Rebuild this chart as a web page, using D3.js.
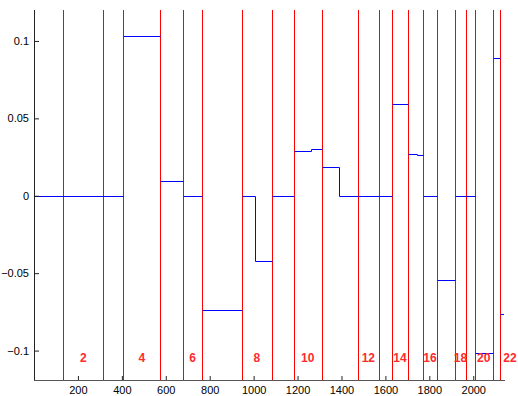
<!DOCTYPE html>
<html>
<head>
<meta charset="utf-8">
<script src="https://cdn.jsdelivr.net/npm/d3@7"></script>
<style>
  body { margin: 0; background: #fff; }
  text { font-family: "Liberation Sans", Arial, sans-serif; }
</style>
</head>
<body>
<script>
// segment borders (red lines), first and last are the outer ends
var borders = [0, 133, 316, 407, 575, 680, 765, 947, 1082, 1182, 1311, 1474, 1571, 1628, 1704, 1771, 1835, 1915, 1969, 2007, 2088, 2122, 2213]
// step line: where each level starts and its value
var stepX = [0, 133, 316, 407, 575, 680, 765, 947, 1006, 1082, 1182, 1261, 1311, 1389, 1474, 1571, 1628, 1704, 1742, 1771, 1835, 1915, 1969, 2007, 2088, 2122]
var stepY = [0, 0, 0, 0.1032, 0.0097, 0, -0.0738, 0, -0.0424, 0, 0.029, 0.0303, 0.0189, 0, 0, 0, 0.0594, 0.0269, 0.0262, 0, -0.0546, 0, 0, -0.1013, 0.0888, -0.0763]
var segLabels = [2, 4, 6, 8, 10, 12, 14, 16, 18, 20, 22]
var xTicks = [200, 400, 600, 800, 1000, 1200, 1400, 1600, 1800, 2000]
var yTicks = [-0.1, -0.05, 0, 0.05, 0.1]

var width = 518, height = 396

var svg = d3.select("body").append("svg")
  .attr('width', width)
  .attr('height', height)

var x = d3.scaleLinear().domain([0, 2140]).range([34, 504])
var y = d3.scaleLinear().domain([-0.119, 0.12]).range([380, 10])

function px(v) { return Math.round(x(v)) + 0.5 }
function py(v) { return Math.round(y(v)) + 0.5 }

svg.append("clipPath").attr('id', 'plot')
  .append("rect")
  .attr('x', 34).attr('y', 10)
  .attr('width', 470).attr('height', 370)

var plot = svg.append("g").attr('clip-path', 'url(#plot)')

// red borders
plot.selectAll("line.border")
  .data(borders.slice(1, -1))
  .enter().append("line")
  .attr('class', 'border')
  .attr('x1', function(d) { return px(d) })
  .attr('x2', function(d) { return px(d) })
  .attr('y1', 10)
  .attr('y2', 380)
  .style('stroke', 'rgb(255,0,0)')
  .style('stroke-width', 1)

// blue steps, one path per segment
var segments = []
for (var s = 0; s < borders.length - 1; s++) {
  var a = borders[s], b = borders[s + 1]
  var pts = []
  for (var i = 0; i < stepX.length; i++) {
    if (stepX[i] >= a && stepX[i] < b) pts.push([stepX[i], stepY[i]])
  }
  pts.push([b, pts[pts.length - 1][1]])
  segments.push(pts)
}

var line = d3.line()
  .x(function(d) { return px(d[0]) })
  .y(function(d) { return py(d[1]) })
  .curve(d3.curveStepAfter)

plot.selectAll("path.step")
  .data(segments)
  .enter().append("path")
  .attr('class', 'step')
  .attr('d', line)
  .style('fill', 'none')
  .style('stroke', 'rgb(0,0,255)')
  .style('stroke-width', 1)

// segment numbers
svg.selectAll("text.seg")
  .data(segLabels)
  .enter().append("text")
  .attr('class', 'seg')
  .attr('x', function(d) { return x((borders[d - 1] + borders[d]) / 2) })
  .attr('y', 362)
  .attr('text-anchor', 'middle')
  .attr('fill', '#ff2a2a')
  .attr('font-size', 12)
  .attr('font-weight', 'bold')
  .text(function(d) { return d })

// axes, ticks pointing inward
var xAxis = d3.axisBottom(x).tickValues(xTicks).tickSize(-4).tickPadding(6)
  .tickFormat(d3.format("d"))
var yAxis = d3.axisLeft(y).tickValues(yTicks).tickSize(-5).tickPadding(5)
  .tickFormat(function(d) { return d === 0 ? "0" : String(d).replace("-", "\u2212") })

var gx = svg.append("g").attr('transform', 'translate(0,380)').call(xAxis)
var gy = svg.append("g").attr('transform', 'translate(34,0)').call(yAxis)

gx.select(".domain").attr('d', 'M34,0.5H505').attr('stroke', '#555')
gy.select(".domain").attr('d', 'M0.5,10V380').attr('stroke', '#222')
svg.selectAll(".tick text").attr('font-size', 11).attr('fill', '#000')
svg.selectAll(".tick line").attr('stroke', '#222')
</script>
</body>
</html>
